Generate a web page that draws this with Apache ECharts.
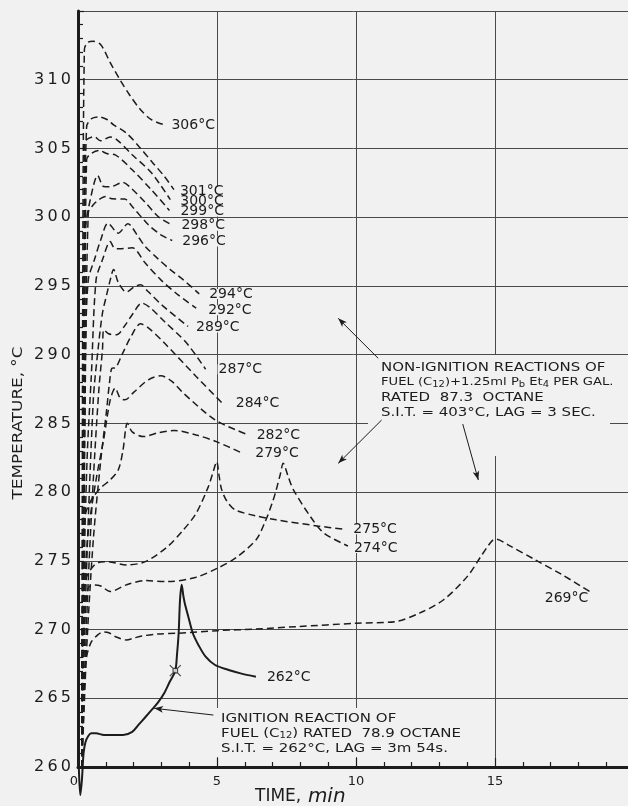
<!DOCTYPE html>
<html>
<head>
<meta charset="utf-8">
<script src="https://cdn.jsdelivr.net/npm/echarts@6/dist/echarts.min.js"></script>
<style>
    html, body { margin: 0; padding: 0; background: #f1f1f1; }
    #tempChart { width: 628px; height: 806px; }
</style>
</head>
<body>
<div id="tempChart"></div>
<script>
// [time (min), temperature (°C)], one array per run
const run306 = [[0.14, 260], [0.17, 294.0], [0.23, 312.2], [0.34, 312.7], [0.54, 312.8], [0.82, 312.55], [1.16, 311.24], [1.51, 310.0], [1.85, 308.91], [2.25, 307.82], [2.64, 307.09], [3.11, 306.72]];
const run301 = [[0.14, 260], [0.21, 294.0], [0.31, 306.58], [0.48, 307.16], [0.76, 307.29], [1.06, 307.09], [1.28, 306.72], [1.74, 306.12], [2.19, 305.15], [2.65, 304.05], [3.11, 302.96], [3.45, 302.0]];
const run300 = [[0.14, 260], [0.21, 290.35], [0.24, 305.42], [0.58, 305.85], [0.82, 305.56], [1.16, 305.83], [1.40, 305.63], [1.95, 304.54], [2.64, 303.23], [3.32, 301.28]];
const run299 = [[0.14, 260], [0.24, 286.7], [0.31, 304.18], [0.75, 304.85], [1.06, 304.62], [1.34, 304.54], [1.95, 303.45], [2.64, 301.99], [3.29, 300.49]];
const run298 = [[0.14, 260], [0.21, 286.71], [0.27, 299.08], [0.48, 301.63], [0.71, 303.04], [0.92, 302.23], [1.16, 302.21], [1.61, 302.53], [1.85, 302.23], [2.43, 301.05], [2.88, 300.05], [3.29, 299.53]];
const run296 = [[0.14, 260], [0.24, 283.07], [0.37, 300.32], [0.55, 300.9], [0.75, 301.27], [0.99, 301.51], [1.22, 301.34], [1.68, 301.32], [1.95, 300.78], [2.53, 299.45], [2.98, 298.72], [3.39, 298.30]];
const run294 = [[0.14, 260], [0.21, 279.43], [0.27, 290.35], [0.37, 295.44], [0.59, 296.9], [0.82, 298.36], [1.08, 299.56], [1.45, 298.84], [1.79, 299.52], [2.19, 298.5], [2.42, 297.87], [2.88, 296.97], [3.33, 296.17], [3.79, 295.44], [4.36, 294.42]];
const run292 = [[0.14, 260], [0.24, 276.0], [0.34, 283.07], [0.48, 288.5], [0.65, 295.44], [0.88, 296.9], [1.16, 298.23], [1.30, 297.77], [1.51, 297.70], [1.95, 297.77], [2.42, 296.66], [2.98, 295.44], [3.60, 294.35], [4.25, 293.38]];
const run289 = [[0.14, 260], [0.27, 272.0], [0.55, 286.71], [0.72, 290.35], [0.88, 293.02], [1.03, 294.35], [1.16, 295.44], [1.28, 296.2], [1.44, 295.30], [1.74, 294.55], [2.02, 294.93], [2.25, 295.08], [2.53, 294.57], [3.05, 293.55], [3.96, 292.05]];
const run287 = [[0.14, 260], [0.34, 272.15], [0.55, 280.89], [0.75, 287.44], [0.88, 290.35], [0.93, 291.81], [1.10, 291.52], [1.39, 291.44], [1.68, 292.10], [1.95, 292.90], [2.30, 293.75], [2.60, 293.41], [3.11, 292.41], [3.90, 290.86], [4.59, 288.94]];
const run284 = [[0.14, 260], [0.31, 268.52], [0.55, 276.52], [0.82, 282.34], [1.03, 285.98], [1.13, 287.9], [1.22, 289.01], [1.34, 289.04], [1.58, 289.99], [1.92, 291.37], [2.25, 292.24], [2.53, 291.95], [3.11, 290.84], [4.25, 288.41], [5.17, 286.51]];
const run282 = [[0.14, 260], [0.21, 270.70], [0.34, 276.52], [0.65, 280.89], [0.92, 283.80], [1.16, 286.71], [1.34, 287.56], [1.51, 286.86], [1.68, 286.71], [2.02, 287.29], [2.53, 288.17], [2.98, 288.46], [3.39, 288.03], [3.79, 287.20], [4.93, 285.25], [6.03, 284.24]];
const run279 = [[0.14, 260], [0.17, 272.15], [0.25, 278.22], [0.48, 279.43], [0.82, 280.31], [1.16, 280.89], [1.45, 281.62], [1.62, 283.07], [1.71, 284.53], [1.77, 285.01], [1.95, 284.38], [2.36, 284.04], [2.88, 284.31], [3.45, 284.48], [4.25, 284.16], [5.00, 283.65], [5.91, 282.83]];
const run275 = [[0.14, 260], [0.17, 270.70], [0.24, 272.88], [0.31, 273.85], [0.59, 274.70], [0.82, 274.92], [1.05, 274.94], [1.74, 274.70], [2.42, 274.94], [3.22, 276.03], [3.79, 277.25], [4.25, 278.46], [4.69, 280.40], [4.86, 281.47], [4.99, 282.22], [5.07, 281.25], [5.17, 280.16], [5.37, 279.29], [5.66, 278.70], [6.40, 278.27], [7.13, 277.98], [8.60, 277.54], [9.58, 277.30]];
const run274 = [[0.14, 260], [0.17, 266.33], [0.24, 270.70], [0.37, 273.03], [0.59, 273.25], [0.82, 273.17], [1.16, 272.76], [1.74, 273.25], [2.42, 273.56], [3.22, 273.49], [4.25, 273.81], [5.01, 274.46], [5.66, 275.19], [6.40, 276.52], [6.71, 277.74], [7.00, 279.29], [7.13, 280.16], [7.28, 281.32], [7.38, 282.10], [7.56, 281.13], [7.75, 280.16], [8.36, 278.22], [8.85, 277.01], [9.71, 276.08]];
const run269 = [[0.14, 260], [0.17, 263.42], [0.24, 266.33], [0.31, 268.03], [0.48, 269.10], [0.71, 269.61], [0.92, 269.83], [1.11, 269.77], [1.37, 269.46], [1.74, 269.24], [2.02, 269.39], [2.30, 269.53], [2.88, 269.68], [3.56, 269.73], [5.01, 269.92], [6.40, 270.04], [7.87, 270.21], [10.01, 270.46], [11.42, 270.58], [12.28, 271.19], [13.14, 272.15], [14.00, 273.85], [14.49, 275.31], [14.73, 276.03], [14.93, 276.52], [15.04, 276.57], [15.47, 276.16], [16.45, 275.07], [17.43, 273.97], [18.41, 272.76]];
const run262 = [[0.03, 260], [0.08, 257.96], [0.14, 259.05], [0.20, 261.0], [0.27, 261.82], [0.37, 262.26], [0.48, 262.45], [0.65, 262.45], [0.93, 262.33], [1.16, 262.33], [1.62, 262.33], [1.95, 262.55], [2.19, 263.1], [2.42, 263.62], [2.65, 264.15], [2.88, 264.70], [3.11, 265.40], [3.30, 266.2], [3.50, 267.01], [3.56, 268.15], [3.62, 269.73], [3.67, 272.15], [3.73, 273.25], [3.79, 272.45], [3.84, 271.91], [3.97, 270.92], [4.13, 269.73], [4.35, 268.81], [4.59, 268.03], [4.93, 267.42], [5.42, 267.06], [5.85, 266.81], [6.40, 266.57]];

// furnace temperature of each run (curve labels)
const furnaceTemps = ['306°C', '301°C', '300°C', '299°C', '298°C', '296°C', '294°C', '292°C', '289°C', '287°C', '284°C', '282°C', '279°C', '275°C', '274°C', '269°C', '262°C'];
const runs = [run306, run301, run300, run299, run298, run296, run294, run292, run289, run287, run284, run282, run279, run275, run274, run269, run262];

// point where the 262°C run ignites
const ignitionPoint = [[3.50, 267.01]];

// annotation arrows [from, to] in [min, °C]
const noteArrows = [
    [[10.80, 289.73], [9.36, 292.64]],
    [[10.92, 285.24], [9.36, 282.09]],
    [[13.84, 284.95], [14.40, 280.88]],
    [[4.87, 263.78], [2.74, 264.27]],
];

const timeTicks = [0, 5, 10, 15];

// label placement next to each curve end (px)
const labelOffsets = [[6, 1], [5, 2], [9, 2], [10, 1], [11, 2], [9, 1], [9, 0], [11, 2], [7, 1], [12, 0], [13, 1], [10, 2], [12, 0], [8, 0], [5, 2], [-46, 7], [10, 1]];

const ink = '#1c1c1c';
const paper = '#f1f1f1';
const fontFamily = '"DejaVu Sans", "Noto Sans", sans-serif';

const seriesData = [];
runs.forEach((run, idx) => {
    const solid = furnaceTemps[idx] === '262°C';
    seriesData.push({
        name: furnaceTemps[idx],
        type: 'line',
        data: run,
        symbol: 'none',
        showSymbol: false,
        smooth: 0.3,
        clip: !solid,
        silent: true,
        lineStyle: {
            color: ink,
            width: solid ? 2 : 1.5,
            type: solid ? 'solid' : [7, 4],
        },
        endLabel: {
            show: true,
            formatter: furnaceTemps[idx],
            distance: 0,
            offset: labelOffsets[idx],
            color: ink,
            fontSize: 14,
            fontFamily: fontFamily,
            lineHeight: 10,
            backgroundColor: paper,
            padding: [0, 1],
        },
    });
});

seriesData.push({
    type: 'scatter',
    data: ignitionPoint,
    symbol: 'path://M3 3L7 3L7 7L3 7Z M0 0L3 3 M10 0L7 3 M10 10L7 7 M0 10L3 7',
    symbolSize: 11,
    silent: true,
    itemStyle: { color: paper, borderColor: ink, borderWidth: 1.2 },
    z: 5,
});

seriesData.push({
    type: 'line',
    data: [],
    silent: true,
    markLine: {
        silent: true,
        symbol: ['none', 'arrow'],
        symbolSize: [5, 9],
        label: { show: false },
        lineStyle: { type: 'solid', color: ink, width: 1 },
        data: noteArrows.map((a) => [{ coord: a[0] }, { coord: a[1] }]),
    },
});

const spaced = (v) => String(v).split('').join('\u2009');

const option = {
    animation: false,
    backgroundColor: paper,
    grid: {
        left: 78,
        right: -6,
        top: 11,
        bottom: 39,
        containLabel: false,
        outerBoundsMode: 'none',
    },
    xAxis: {
        type: 'value',
        min: 0,
        max: 20,
        interval: 5,
        axisLine: { show: true, onZero: false, lineStyle: { color: ink, width: 3 } },
        axisTick: { show: true, inside: true, length: 9, lineStyle: { color: ink, width: 1.2 } },
        minorTick: { show: true, splitNumber: 5, length: 5, lineStyle: { color: ink, width: 1.2 } },
        splitLine: { show: true, lineStyle: { color: '#4a4a4a', width: 1 } },
        axisLabel: {
            color: ink,
            fontSize: 13,
            fontFamily: fontFamily,
            margin: 8,
            alignMinLabel: 'right',
            formatter: (v) => (timeTicks.indexOf(v) >= 0 ? String(v) : ''),
        },
    },
    yAxis: {
        type: 'value',
        min: 260,
        max: 315,
        interval: 5,
        axisLine: { show: true, lineStyle: { color: ink, width: 3 } },
        axisTick: { show: true, inside: true, length: 6, lineStyle: { color: ink, width: 1.2 } },
        minorTick: { show: true, splitNumber: 5, length: 5, lineStyle: { color: ink, width: 1.2 } },
        splitLine: { show: true, lineStyle: { color: '#4a4a4a', width: 1 } },
        axisLabel: {
            color: ink,
            fontSize: 16,
            fontFamily: fontFamily,
            margin: 7,
            formatter: (v) => (v === 315 ? '' : spaced(v)),
        },
    },
    graphic: [
        // clear the grid behind the two notes, as in the drawing
        { type: 'rect', z: 1, silent: true, shape: { x: 368, y: 355, width: 242, height: 101 }, style: { fill: paper } },
        { type: 'rect', z: 1, silent: true, shape: { x: 212, y: 708, width: 258, height: 49 }, style: { fill: paper } },
        {
            type: 'text', z: 6, silent: true, x: 381, y: 360, scaleX: 1.25,
            style: {
                text: 'NON-IGNITION REACTIONS OF\n{m|FUEL (C}{s|12}{m|)+1.25ml P}{s|b}{m| Et}{s|4}{m| PER GAL.}\nRATED  87.3  OCTANE\nS.I.T. = 403°C, LAG = 3 SEC.',
                font: '12px ' + fontFamily,
                fill: ink,
                lineHeight: 15,
                rich: {
                    m: { fontSize: 10.5, fontFamily: fontFamily, fill: ink, lineHeight: 15 },
                    s: { fontSize: 8, fontFamily: fontFamily, fill: ink, lineHeight: 15, padding: [4, 0, 0, 0] },
                },
            },
        },
        {
            type: 'text', z: 6, silent: true, x: 221, y: 711, scaleX: 1.25,
            style: {
                text: 'IGNITION REACTION OF\nFUEL (C{s|12}) RATED  78.9 OCTANE\nS.I.T. = 262°C, LAG = 3m 54s.',
                font: '12px ' + fontFamily,
                fill: ink,
                lineHeight: 15,
                rich: {
                    s: { fontSize: 8, fontFamily: fontFamily, fill: ink, lineHeight: 15, padding: [4, 0, 0, 0] },
                },
            },
        },
        // axis titles
        {
            type: 'text', silent: true, x: 255, y: 797,
            style: {
                text: '{a|TIME,}  {b|min}',
                verticalAlign: 'middle',
                rich: {
                    a: { fontSize: 17, fontFamily: fontFamily, fill: ink },
                    b: { fontSize: 20, fontStyle: 'italic', fontFamily: fontFamily, fill: ink },
                },
            },
        },
        {
            type: 'text', silent: true, x: 18, y: 423, rotation: Math.PI / 2, scaleX: 1.2,
            style: {
                text: 'TEMPERATURE, °C',
                font: '14px ' + fontFamily,
                fill: ink,
                align: 'center',
                verticalAlign: 'middle',
            },
        },
    ],
    series: seriesData,
};

let myChart = echarts.init(document.getElementById('tempChart'));
myChart.clear();
myChart.setOption(option);
</script>
</body>
</html>
